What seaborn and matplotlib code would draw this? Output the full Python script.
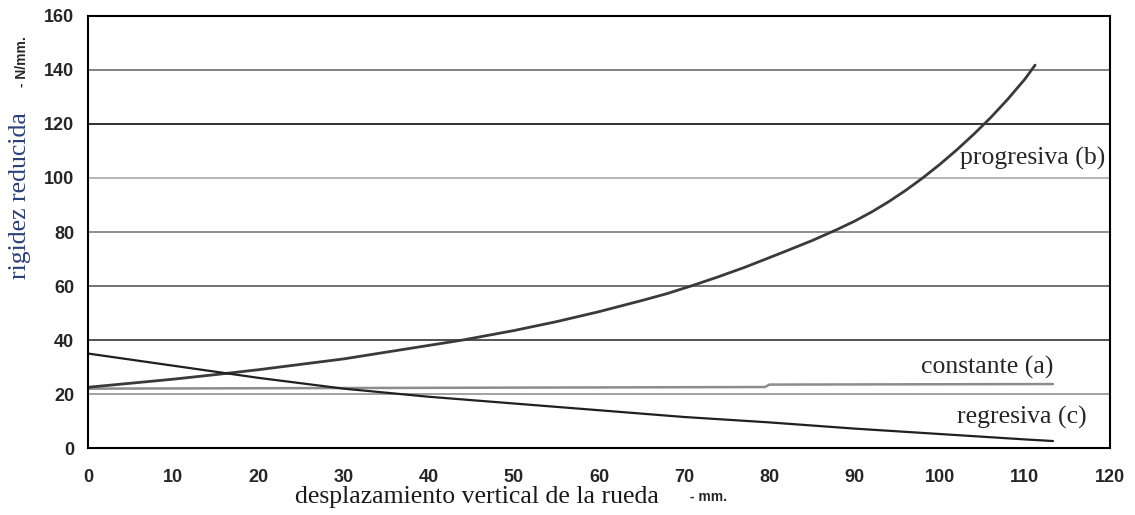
import numpy as np
import pandas as pd
import matplotlib
matplotlib.use("Agg")
import matplotlib.pyplot as plt
import seaborn as sns

# Valores
x_prog = [0, 5, 10, 15, 20, 25, 30, 37, 44, 50, 55, 60, 65, 68, 71, 74, 77, 80, 82, 85,
          88, 90, 92, 94, 96, 98, 100, 102, 104, 106, 108, 110, 111.2]
y_prog = [22.5, 24, 25.5, 27.2, 29, 31, 33, 36.5, 40, 43.5, 46.8, 50.5, 54.6, 57.2, 60.2,
          63.4, 66.8, 70.5, 73, 76.8, 81, 84, 87.4, 91.2, 95.4, 100, 105, 110.4, 116.2,
          122.4, 129.2, 136.6, 141.8]

x_const = [0, 40, 79.5, 80, 113.3]
y_const = [22.0, 22.3, 22.6, 23.5, 23.7]

x_regr = [0, 10, 20, 30, 40, 50, 60, 70, 80, 90, 100, 110, 113.3]
y_regr = [35, 30.5, 26, 22, 19, 16.5, 14, 11.5, 9.5, 7.2, 5.2, 3.2, 2.6]

x_ticks = list(range(0, 121, 10))
y_ticks = list(range(0, 161, 20))

sns.set_style("white")
plt.rcParams["font.family"] = ["Liberation Sans", "DejaVu Sans"]

fig, ax = plt.subplots(figsize=(11.35, 5.15), dpi=100)
fig.subplots_adjust(left=0.0775, right=0.978, top=0.969, bottom=0.13)

# colores de la rejilla horizontal
grid_cols = {20: "#9a9a9a", 40: "#444444", 60: "#666666", 80: "#888888",
             100: "#b0b0b0", 120: "#222222", 140: "#777777", 160: "#222222"}

df = pd.concat([
    pd.DataFrame({"x": x_prog, "y": y_prog, "serie": "b"}),
    pd.DataFrame({"x": x_const, "y": y_const, "serie": "a"}),
    pd.DataFrame({"x": x_regr, "y": y_regr, "serie": "c"}),
])
sns.lineplot(data=df[df.serie == "a"], x="x", y="y", color="#8c8c8c", lw=1.8, ax=ax)
sns.lineplot(data=df[df.serie == "b"], x="x", y="y", color="#3a3a3a", lw=2.0, ax=ax)
sns.lineplot(data=df[df.serie == "c"], x="x", y="y", color="#202020", lw=1.6, ax=ax)

ax.set_xlim(0, 120)
ax.set_ylim(0, 160)
ax.set_xticks(x_ticks)
ax.set_yticks(y_ticks)
ax.yaxis.grid(True, lw=1.3)
for val, gl in zip(y_ticks, ax.get_ygridlines()):
    gl.set_color(grid_cols.get(val, "#888888"))
ax.set_axisbelow(True)

for s in ax.spines.values():
    s.set_color("black")
    s.set_linewidth(1.5)
ax.tick_params(axis="both", direction="out", length=6, width=1.5, color="black",
               labelsize=13)
ax.tick_params(axis="x", pad=9)
ax.tick_params(axis="y", pad=4)
for lab in ax.get_xticklabels() + ax.get_yticklabels():
    lab.set_fontweight("bold")

ax.set_xlabel("")
ax.set_ylabel("")

serif = ["Liberation Serif", "DejaVu Serif"]
fig.text(0.42, 0.035, "desplazamiento vertical de la rueda", fontsize=18.5,
         family=serif, ha="center", va="center", color="#1a1a1a")
fig.text(0.624, 0.035, "- mm.", fontsize=10, fontweight="bold", ha="center", va="center")
fig.text(0.018, 0.62, "rigidez reducida", fontsize=18.5, family=serif, rotation=90,
         ha="center", va="center", color="#2b3f7a")
fig.text(0.019, 0.88, "- N/mm.", fontsize=10, fontweight="bold", rotation=90,
         ha="center", va="center")

ax.text(119.4, 107.4, "progresiva (b)", fontsize=18.5, family=serif, ha="right", va="center")
ax.text(113.4, 30, "constante (a)", fontsize=18.5, family=serif, ha="right", va="center")
ax.text(117.2, 11.5, "regresiva (c)", fontsize=18.5, family=serif, ha="right", va="center")

fig.savefig("out.png", dpi=100)
